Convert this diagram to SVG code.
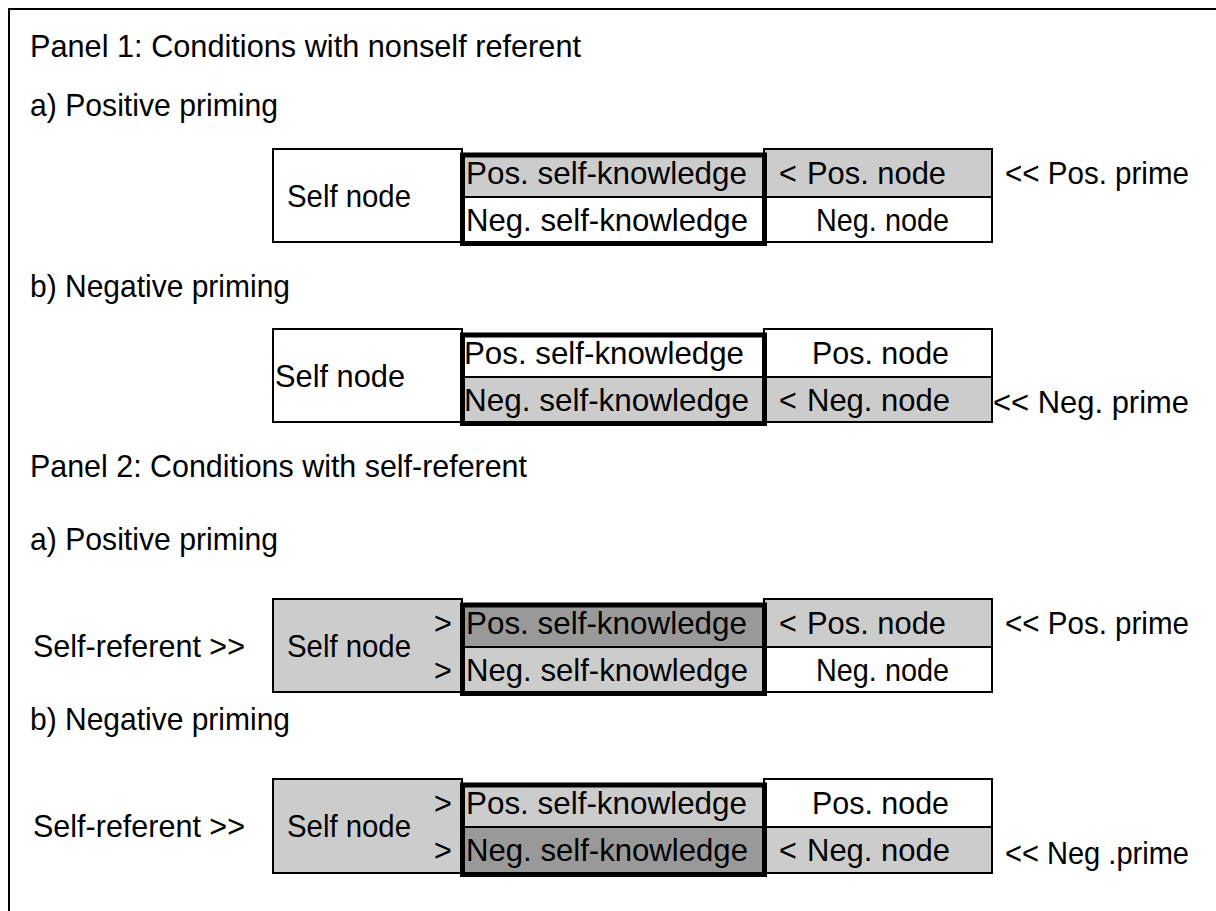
<svg xmlns="http://www.w3.org/2000/svg" width="1216" height="911" viewBox="0 0 1216 911">
<style>
text{font-family:"Liberation Sans",Arial,sans-serif;font-size:30.5px;fill:#000}
.thin{fill:none;stroke:#000;stroke-width:2}
.thick{fill:none;stroke:#000;stroke-width:5}
.lg{fill:#cccccc}
.dg{fill:#999999}
.wh{fill:#ffffff}
</style>
<rect x="0" y="0" width="1216" height="911" fill="#fff"/>
<rect x="9" y="9" width="1230" height="930" fill="none" stroke="#000" stroke-width="2"/>
<g id="headings">
<text x="30" y="57" textLength="551" lengthAdjust="spacingAndGlyphs">Panel 1: Conditions with nonself referent</text>
<text x="30" y="116" textLength="248" lengthAdjust="spacingAndGlyphs">a) Positive priming</text>
<text x="30" y="297" textLength="260" lengthAdjust="spacingAndGlyphs">b) Negative priming</text>
<text x="30" y="477" textLength="497" lengthAdjust="spacingAndGlyphs">Panel 2: Conditions with self-referent</text>
<text x="30" y="550" textLength="248" lengthAdjust="spacingAndGlyphs">a) Positive priming</text>
<text x="30" y="730" textLength="260" lengthAdjust="spacingAndGlyphs">b) Negative priming</text>
</g>

<!-- Panel 1a -->
<g id="p1a">
<g id="p1a-self"><rect class="wh" x="273" y="149" width="189" height="93"/><rect class="thin" x="273" y="149" width="189" height="93"/><text x="287" y="207" textLength="124" lengthAdjust="spacingAndGlyphs">Self node</text></g>
<g id="p1a-posnode"><rect class="lg" x="764" y="149" width="228" height="48"/><rect class="thin" x="764" y="149" width="228" height="48"/><text x="779" y="184">&lt;</text><text x="807" y="184" textLength="139" lengthAdjust="spacingAndGlyphs">Pos. node</text></g>
<g id="p1a-negnode"><rect class="wh" x="764" y="197" width="228" height="45"/><rect class="thin" x="764" y="197" width="228" height="45"/><text x="816" y="231" textLength="133" lengthAdjust="spacingAndGlyphs">Neg. node</text></g>
<g id="p1a-possk"><rect class="lg" x="462" y="155" width="302" height="42"/><text x="466" y="184" textLength="281" lengthAdjust="spacingAndGlyphs">Pos. self-knowledge</text></g>
<g id="p1a-negsk"><rect class="wh" x="462" y="197" width="302" height="46"/><text x="466" y="231" textLength="282" lengthAdjust="spacingAndGlyphs">Neg. self-knowledge</text></g>
<g id="p1a-box"><line class="thin" x1="462" y1="197" x2="764" y2="197"/><rect class="thick" x="462.5" y="155" width="302" height="88.5"/></g>
<g id="p1a-prime"><text x="1005" y="184" textLength="184" lengthAdjust="spacingAndGlyphs">&lt;&lt; Pos. prime</text></g>
</g>

<!-- Panel 1b -->
<g id="p1b">
<g id="p1b-self"><rect class="wh" x="273" y="329" width="189" height="93"/><rect class="thin" x="273" y="329" width="189" height="93"/><text x="275" y="387" textLength="130" lengthAdjust="spacingAndGlyphs">Self node</text></g>
<g id="p1b-posnode"><rect class="wh" x="764" y="329" width="228" height="48"/><rect class="thin" x="764" y="329" width="228" height="48"/><text x="812" y="364" textLength="137" lengthAdjust="spacingAndGlyphs">Pos. node</text></g>
<g id="p1b-negnode"><rect class="lg" x="764" y="377" width="228" height="45"/><rect class="thin" x="764" y="377" width="228" height="45"/><text x="779" y="411">&lt;</text><text x="807" y="411" textLength="143" lengthAdjust="spacingAndGlyphs">Neg. node</text></g>
<g id="p1b-possk"><rect class="wh" x="462" y="335" width="302" height="42"/><text x="464" y="364" textLength="280" lengthAdjust="spacingAndGlyphs">Pos. self-knowledge</text></g>
<g id="p1b-negsk"><rect class="lg" x="462" y="377" width="302" height="46"/><text x="464" y="411" textLength="285" lengthAdjust="spacingAndGlyphs">Neg. self-knowledge</text></g>
<g id="p1b-box"><line class="thin" x1="462" y1="377" x2="764" y2="377"/><rect class="thick" x="462.5" y="335" width="302" height="88.5"/></g>
<g id="p1b-prime"><text x="993" y="413" textLength="196" lengthAdjust="spacingAndGlyphs">&lt;&lt; Neg. prime</text></g>
</g>

<!-- Panel 2a -->
<g id="p2a">
<g id="p2a-referent"><text x="33" y="657" textLength="212" lengthAdjust="spacingAndGlyphs">Self-referent &gt;&gt;</text></g>
<g id="p2a-self"><rect class="lg" x="273" y="599" width="189" height="93"/><rect class="thin" x="273" y="599" width="189" height="93"/><text x="287" y="657" textLength="124" lengthAdjust="spacingAndGlyphs">Self node</text><text x="434" y="634">&gt;</text><text x="434" y="681">&gt;</text></g>
<g id="p2a-posnode"><rect class="lg" x="764" y="599" width="228" height="48"/><rect class="thin" x="764" y="599" width="228" height="48"/><text x="779" y="634">&lt;</text><text x="807" y="634" textLength="139" lengthAdjust="spacingAndGlyphs">Pos. node</text></g>
<g id="p2a-negnode"><rect class="wh" x="764" y="647" width="228" height="45"/><rect class="thin" x="764" y="647" width="228" height="45"/><text x="816" y="681" textLength="133" lengthAdjust="spacingAndGlyphs">Neg. node</text></g>
<g id="p2a-possk"><rect class="dg" x="462" y="605" width="302" height="42"/><text x="466" y="634" textLength="281" lengthAdjust="spacingAndGlyphs">Pos. self-knowledge</text></g>
<g id="p2a-negsk"><rect class="lg" x="462" y="647" width="302" height="46"/><text x="466" y="681" textLength="282" lengthAdjust="spacingAndGlyphs">Neg. self-knowledge</text></g>
<g id="p2a-box"><line class="thin" x1="462" y1="647" x2="764" y2="647"/><rect class="thick" x="462.5" y="605" width="302" height="88.5"/></g>
<g id="p2a-prime"><text x="1005" y="634" textLength="184" lengthAdjust="spacingAndGlyphs">&lt;&lt; Pos. prime</text></g>
</g>

<!-- Panel 2b -->
<g id="p2b">
<g id="p2b-referent"><text x="33" y="837" textLength="212" lengthAdjust="spacingAndGlyphs">Self-referent &gt;&gt;</text></g>
<g id="p2b-self"><rect class="lg" x="273" y="779" width="189" height="94"/><rect class="thin" x="273" y="779" width="189" height="94"/><text x="287" y="837" textLength="124" lengthAdjust="spacingAndGlyphs">Self node</text><text x="434" y="814">&gt;</text><text x="434" y="861">&gt;</text></g>
<g id="p2b-posnode"><rect class="wh" x="764" y="779" width="228" height="48"/><rect class="thin" x="764" y="779" width="228" height="48"/><text x="812" y="814" textLength="137" lengthAdjust="spacingAndGlyphs">Pos. node</text></g>
<g id="p2b-negnode"><rect class="lg" x="764" y="827" width="228" height="46"/><rect class="thin" x="764" y="827" width="228" height="46"/><text x="779" y="861">&lt;</text><text x="807" y="861" textLength="143" lengthAdjust="spacingAndGlyphs">Neg. node</text></g>
<g id="p2b-possk"><rect class="lg" x="462" y="785" width="302" height="42"/><text x="466" y="814" textLength="281" lengthAdjust="spacingAndGlyphs">Pos. self-knowledge</text></g>
<g id="p2b-negsk"><rect class="dg" x="462" y="827" width="302" height="47"/><text x="466" y="861" textLength="282" lengthAdjust="spacingAndGlyphs">Neg. self-knowledge</text></g>
<g id="p2b-box"><line class="thin" x1="462" y1="827" x2="764" y2="827"/><rect class="thick" x="462.5" y="785" width="302" height="89.5"/></g>
<g id="p2b-prime"><text x="1005" y="864" textLength="184" lengthAdjust="spacingAndGlyphs">&lt;&lt; Neg .prime</text></g>
</g>
<g id="connectors"/>
</svg>
